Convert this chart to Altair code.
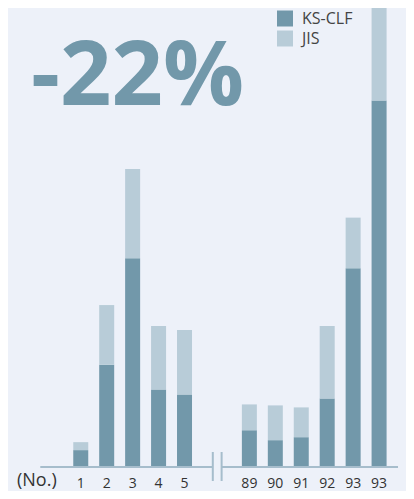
import altair as alt
import pandas as pd

# --- data ---
labels = ["1", "2", "3", "4", "5", "89", "90", "91", "92", "93", "93"]
slots = [0, 1, 2, 3, 4, 6.5, 7.5, 8.5, 9.5, 10.5, 11.5]
ks_clf = [17, 103, 210, 78, 73, 37, 27, 30, 69, 200, 369]
jis = [8, 60, 90, 64, 65, 26, 35, 30, 73, 51, 93]
series = ["KS-CLF", "JIS"]
colors = ["#7298aa", "#b8ccd8"]

rows = []
for s, lab, a, b in zip(slots, labels, ks_clf, jis):
    rows.append({"pos": s, "label": lab, "series": "KS-CLF", "value": a, "ord": 0})
    rows.append({"pos": s, "label": lab, "series": "JIS", "value": b, "ord": 1})
df = pd.DataFrame(rows)

W, H = 398, 483
px_per_slot = 26.61
x0 = 69.5  # chart pixel of slot 0
xs = alt.Scale(domain=[-x0 / px_per_slot, (W - x0) / px_per_slot], nice=False, zero=False)
top = 462
base_px = 459
span = top * H / base_px
ys = alt.Scale(domain=[top - span, top], nice=False, zero=False)
k = base_px / top  # px per unit

lab_df = pd.DataFrame({"pos": slots, "label": labels, "y": [-16.5 / k] * len(slots)})

line_col = "#a6bdcc"

bars = alt.Chart(df).mark_bar(size=15).encode(
    x=alt.X("pos:Q", scale=xs, axis=None),
    y=alt.Y("value:Q", stack="zero", scale=ys, axis=None),
    color=alt.Color(
        "series:N",
        scale=alt.Scale(domain=series, range=colors),
        legend=alt.Legend(
            title=None, orient="none", legendX=269, legendY=2.5,
            symbolType="square", symbolSize=256, symbolStrokeWidth=0,
            symbolOpacity=1, labelFontSize=16, labelFont="Open Sans",
            labelColor="#444444", labelOffset=9, rowPadding=4, padding=0,
        ),
    ),
    order=alt.Order("ord:Q"),
)

base_df = pd.DataFrame({"x": [-1.56, 5.43], "x2": [5.09, 12.23], "y": [0, 0]})
baseline = alt.Chart(base_df).mark_rule(color=line_col, strokeWidth=2).encode(
    x=alt.X("x:Q", scale=xs, axis=None), x2="x2:Q", y=alt.Y("y:Q", scale=ys, axis=None)
)

brk_df = pd.DataFrame({"x": [5.09, 5.43], "y": [15 / k, 15 / k], "y2": [-14 / k, -14 / k]})
breaks = alt.Chart(brk_df).mark_rule(color=line_col, strokeWidth=2).encode(
    x=alt.X("x:Q", scale=xs, axis=None), y=alt.Y("y:Q", scale=ys, axis=None), y2="y2:Q"
)

ticks = alt.Chart(lab_df).mark_text(
    font="Open Sans", fontSize=14, color="#333333", baseline="middle"
).encode(
    x=alt.X("pos:Q", scale=xs, axis=None),
    y=alt.Y("y:Q", scale=ys, axis=None),
    text="label:N",
)

no_txt = alt.Chart(pd.DataFrame({"t": ["(No.)"]})).mark_text(
    font="Open Sans", fontSize=18, color="#333333", align="left", baseline="middle"
).encode(x=alt.value(9), y=alt.value(473), text="t:N")

big = alt.Chart(pd.DataFrame({"t": ["-22%"]})).mark_text(
    font="Open Sans", fontSize=90, fontWeight="bold", color="#7298aa",
    align="left", baseline="alphabetic"
).encode(x=alt.value(23), y=alt.value(97), text="t:N")

chart = alt.layer(bars, baseline, breaks, ticks, no_txt, big).properties(
    width=W, height=H, autosize=alt.AutoSizeParams(type="none"), padding=0,
    background="#edf1f9",
).configure_view(stroke=None)

chart.save("out.html", embed_options={"renderer": "svg", "actions": False})
